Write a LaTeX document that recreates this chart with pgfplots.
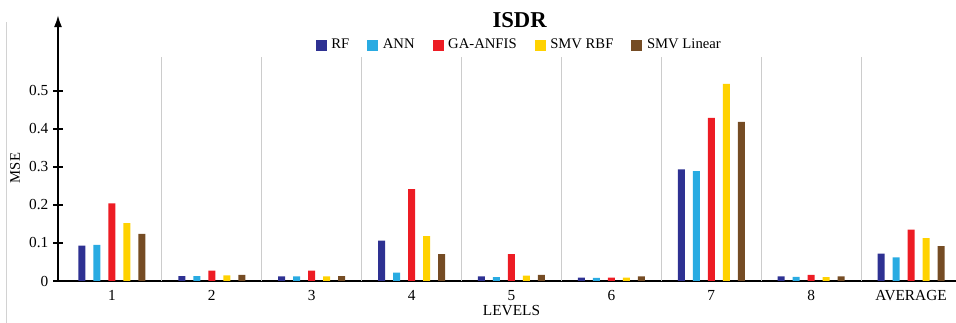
\documentclass[border=0pt]{standalone}
\usepackage{pgfplots}
\pgfplotsset{compat=1.18}
\usepackage{pgfplotstable}
\usepackage{fontspec}
\setmainfont{Liberation Serif}
\usetikzlibrary{arrows.meta}
\definecolor{cRF}{HTML}{2E3192}
\definecolor{cANN}{HTML}{29ABE2}
\definecolor{cGA}{HTML}{ED1C24}
\definecolor{cRBF}{HTML}{FFD200}
\definecolor{cLIN}{HTML}{754C24}
\pgfplotstableread{
x RF ANN GA RBF LIN
0 0.093 0.095 0.204 0.152 0.124
1 0.013 0.013 0.027 0.015 0.016
2 0.012 0.012 0.027 0.012 0.013
3 0.106 0.022 0.242 0.118 0.071
4 0.012 0.010 0.071 0.014 0.016
5 0.009 0.008 0.009 0.009 0.012
6 0.294 0.289 0.429 0.519 0.419
7 0.012 0.011 0.016 0.010 0.012
8 0.072 0.062 0.135 0.113 0.092
}\datatab
\begin{document}
\begin{tikzpicture}
\useasboundingbox (0,0) rectangle (717pt,242.25pt);
\draw[gray!35, line width=0.6pt] (4.5pt,0) -- (4.5pt,226pt);
\node[rotate=90, font=\fontsize{11}{13}\selectfont] at (11.25pt,116.25pt) {MSE};
\begin{axis}[
  at={(43.5pt,31.5pt)}, anchor=south west,
  scale only axis, width=673.5pt, height=199.5pt,
  xmin=-0.54, xmax=8.45, ymin=0, ymax=0.70,
  axis x line*=bottom, axis y line=left,
  y axis line style={-{Latex[length=9pt,width=6pt]}},
  axis line style={black, line width=1.5pt},
  ybar=6pt, bar width=5.25pt,
  xtick=data, xticklabels={1,2,3,4,5,6,7,8,AVERAGE},
  x tick style={draw=none},
  ytick={0,0.1,0.2,0.3,0.4,0.5},
  yticklabel style={/pgf/number format/fixed, /pgf/number format/precision=1},
  /pgf/number format/assume math mode=true,
  y tick style={black, line width=1.3pt},
  tick align=center, major tick length=7.5pt,
  ticklabel style={font=\fontsize{11.5}{13}\selectfont},
  clip=false,
  legend columns=5,
  legend style={at={(rel axis cs:0.514,0.887)}, anchor=center, draw=none, fill=none,
    font=\fontsize{11}{13}\selectfont,
    /tikz/every even column/.append style={column sep=11.5pt},
    /tikz/every odd column/.append style={column sep=1.5pt}},
  legend image code/.code={\fill[#1, draw=none] (0pt,-4.1pt) rectangle (8.2pt,4.1pt);},
  every axis plot/.append style={draw=none},
]
\pgfplotsinvokeforeach{0,...,7}{
  \draw[gray!40, line width=0.8pt] (axis cs:#1+0.5,0) -- (axis cs:#1+0.5,0.59);
}
\addplot[fill=cRF] table[x=x,y=RF]{\datatab};
\addplot[fill=cANN] table[x=x,y=ANN]{\datatab};
\addplot[fill=cGA] table[x=x,y=GA]{\datatab};
\addplot[fill=cRBF] table[x=x,y=RBF]{\datatab};
\addplot[fill=cLIN] table[x=x,y=LIN]{\datatab};
\legend{RF,ANN,GA-ANFIS,SMV RBF,SMV Linear}
\node[font=\bfseries\fontsize{17}{19}\selectfont] at (rel axis cs:0.514,0.981) {ISDR};
\node[font=\fontsize{11.5}{13}\selectfont] at (axis cs:4,-0.077) {LEVELS};
\end{axis}
\end{tikzpicture}
\end{document}
